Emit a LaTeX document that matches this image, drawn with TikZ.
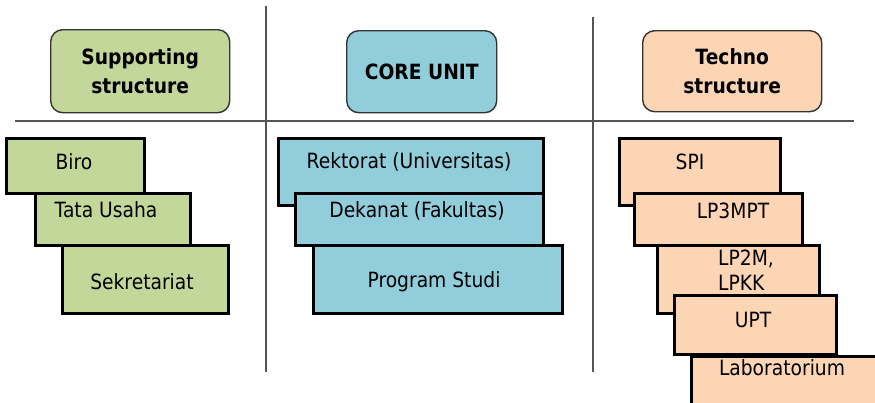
\documentclass[tikz,border=0pt]{standalone}
\usepackage{fontspec}
\setmainfont{DejaVu Sans}[FakeStretch=0.89]
\definecolor{supg}{HTML}{C4D79B}
\definecolor{coreb}{HTML}{92CDDC}
\definecolor{tech}{HTML}{FCD5B4}
\definecolor{rule}{HTML}{555555}
\definecolor{hdrline}{HTML}{333333}
\tikzset{
  hdr/.style={draw=hdrline, line width=1.4pt, rounded corners=12pt, anchor=north west, inner sep=0pt},
  hdrtxt/.style={align=center, font=\fontsize{21}{29}\selectfont\bfseries, text=black},
  unitbox/.style={draw=black, line width=3pt, anchor=north west, inner sep=0pt},
  utxt/.style={font=\fontsize{21}{25}\selectfont, text=black, inner sep=0pt},
  divider/.style={draw=rule, line width=1.8pt}
}
\begin{document}
\begin{tikzpicture}[x=1pt,y=-1pt]
\useasboundingbox (0,0) rectangle (875,402);
% dividers
\coordinate (h1) at (15,121);
\coordinate (h2) at (854,121);
\coordinate (v1a) at (266,6);
\coordinate (v1b) at (266,372);
\coordinate (v2a) at (593,17);
\coordinate (v2b) at (593,372);
\draw[divider] (h1) -- (h2);
\draw[divider] (v1a) -- (v1b);
\draw[divider] (v2a) -- (v2b);
% headers
\node[hdr, fill=supg, minimum width=179pt, minimum height=83pt] (hsup) at (50,29) {};
\node[hdrtxt] (hsupt) at (hsup.center) {Supporting\\structure};
\node[hdr, fill=coreb, minimum width=150pt, minimum height=82pt] (hcore) at (346,30) {};
\node[hdrtxt] (hcoret) at (hcore.center) {CORE UNIT};
\node[hdr, fill=tech, minimum width=179pt, minimum height=81pt] (htech) at (642,30) {};
\node[hdrtxt] (htecht) at (htech.center) {Techno\\structure};
% supporting units
\node[unitbox, fill=supg, minimum width=138pt, minimum height=55pt] (biro) at (5,137) {};
\node[utxt] (birot) at (74,162) {Biro};
\node[unitbox, fill=supg, minimum width=155pt, minimum height=52pt] (tata) at (34,192) {};
\node[utxt] (tatat) at (106,210) {Tata Usaha};
\node[unitbox, fill=supg, minimum width=166pt, minimum height=68pt] (sekr) at (61,244) {};
\node[utxt] (sekrt) at (142,282) {Sekretariat};
% core units
\node[unitbox, fill=coreb, minimum width=265pt, minimum height=67pt] (rekt) at (277,137) {};
\node[utxt] (rektt) at (409,162) {Rektorat (Universitas)};
\node[unitbox, fill=coreb, minimum width=248pt, minimum height=52pt] (dek) at (294,192) {};
\node[utxt] (dekt) at (417,211) {Dekanat (Fakultas)};
\node[unitbox, fill=coreb, minimum width=249pt, minimum height=68pt] (prodi) at (312,244) {};
\node[utxt] (prodit) at (434,282) {Program Studi};
% techno units
\node[unitbox, fill=tech, minimum width=161pt, minimum height=67pt] (spi) at (618,137) {};
\node[utxt] (spit) at (690,162) {SPI};
\node[unitbox, fill=tech, minimum width=168pt, minimum height=52pt] (lp3) at (633,192) {};
\node[utxt] (lp3t) at (733,211) {LP3MPT};
\node[unitbox, fill=tech, minimum width=162pt, minimum height=68pt] (lp2) at (656,244) {};
\node[utxt, align=left, anchor=west] (lp2t) at (718,270.5) {LP2M,\\LPKK};
\node[unitbox, fill=tech, minimum width=162pt, minimum height=59pt] (upt) at (673,294) {};
\node[utxt] (uptt) at (753,320) {UPT};
\node[unitbox, fill=tech, minimum width=200pt, minimum height=60pt] (lab) at (690,355) {};
\node[utxt] (labt) at (782,368) {Laboratorium};
\end{tikzpicture}
\end{document}
